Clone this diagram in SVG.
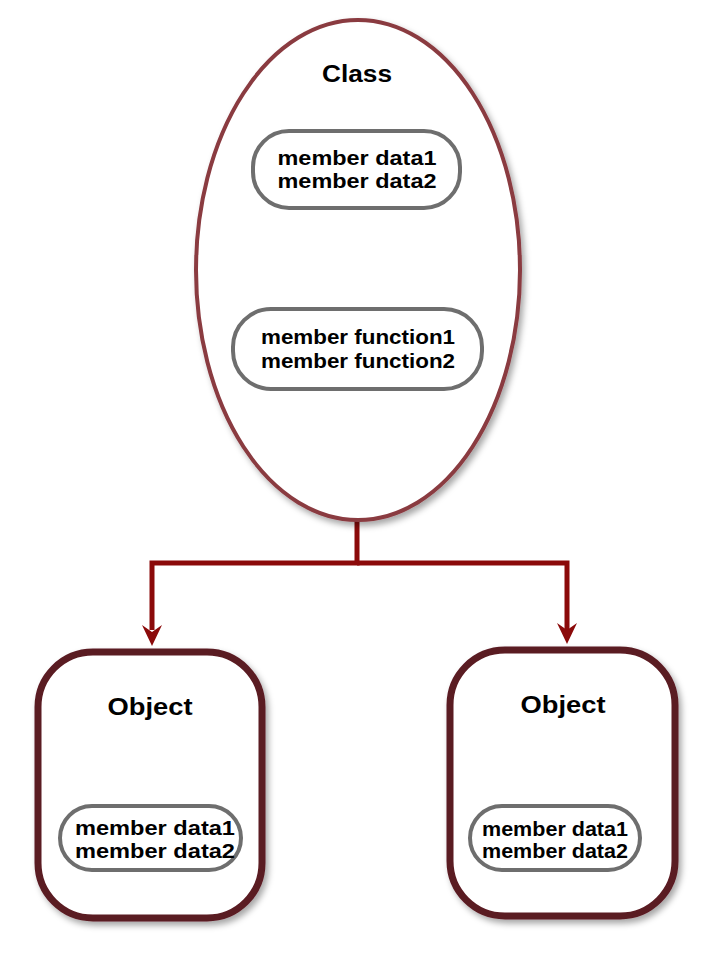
<svg xmlns="http://www.w3.org/2000/svg" width="720" height="959" viewBox="0 0 720 959">
<defs>
<style>
.t{font-family:"Liberation Sans",Arial,sans-serif;font-weight:bold;fill:#000;text-anchor:middle}
.m{font-size:20px}
.h{font-size:23px}
.pill{fill:#fff;stroke:#6e6e6e;stroke-width:4}
.box{fill:#fff;stroke:#5a1a22;stroke-width:7}
.con{fill:none;stroke:#8b0a0a;stroke-width:5}
</style>
<filter id="sh" x="-20%" y="-20%" width="140%" height="140%"><feDropShadow dx="3" dy="4" stdDeviation="3" flood-color="#000" flood-opacity="0.35"/></filter>
</defs>
<rect width="720" height="959" fill="#fff"/>
<g id="connectors">
<path class="con" d="M357 520 V563 H152 V630"/>
<path class="con" d="M357 563 H567 V630"/>
<path d="M142 625 L152 646 L162 625 L152 632 Z" fill="#8b0a0a"/>
<path d="M557 623 L567 644 L577 623 L567 630 Z" fill="#8b0a0a"/>
</g>
<g id="class">
<ellipse cx="358" cy="270" rx="162" ry="250" fill="#fff" stroke="#8a3a40" stroke-width="4" filter="url(#sh)"/>
<text class="t h" x="357" y="82" textLength="70" lengthAdjust="spacingAndGlyphs">Class</text>
<rect class="pill" x="253" y="131" width="207" height="77" rx="36"/>
<text class="t m" x="357" y="165" textLength="159" lengthAdjust="spacingAndGlyphs">member data1</text>
<text class="t m" x="357" y="188" textLength="159" lengthAdjust="spacingAndGlyphs">member data2</text>
<rect class="pill" x="233" y="309" width="249" height="80" rx="38"/>
<text class="t m" x="358" y="344" textLength="194" lengthAdjust="spacingAndGlyphs">member function1</text>
<text class="t m" x="358" y="368" textLength="194" lengthAdjust="spacingAndGlyphs">member function2</text>
</g>
<g id="object1">
<rect class="box" x="38" y="652" width="224" height="266" rx="55" filter="url(#sh)"/>
<text class="t h" x="150" y="715" textLength="85" lengthAdjust="spacingAndGlyphs">Object</text>
<rect class="pill" x="60" y="806" width="181" height="64" rx="32"/>
<text class="t m" x="155" y="835" textLength="160" lengthAdjust="spacingAndGlyphs">member data1</text>
<text class="t m" x="155" y="858" textLength="160" lengthAdjust="spacingAndGlyphs">member data2</text>
</g>
<g id="object2">
<rect class="box" x="450" y="650" width="225" height="266" rx="55" filter="url(#sh)"/>
<text class="t h" x="563" y="713" textLength="85" lengthAdjust="spacingAndGlyphs">Object</text>
<rect class="pill" x="470" y="806" width="170" height="64" rx="32"/>
<text class="t m" x="555" y="836" textLength="146" lengthAdjust="spacingAndGlyphs">member data1</text>
<text class="t m" x="555" y="858" textLength="146" lengthAdjust="spacingAndGlyphs">member data2</text>
</g>
</svg>
